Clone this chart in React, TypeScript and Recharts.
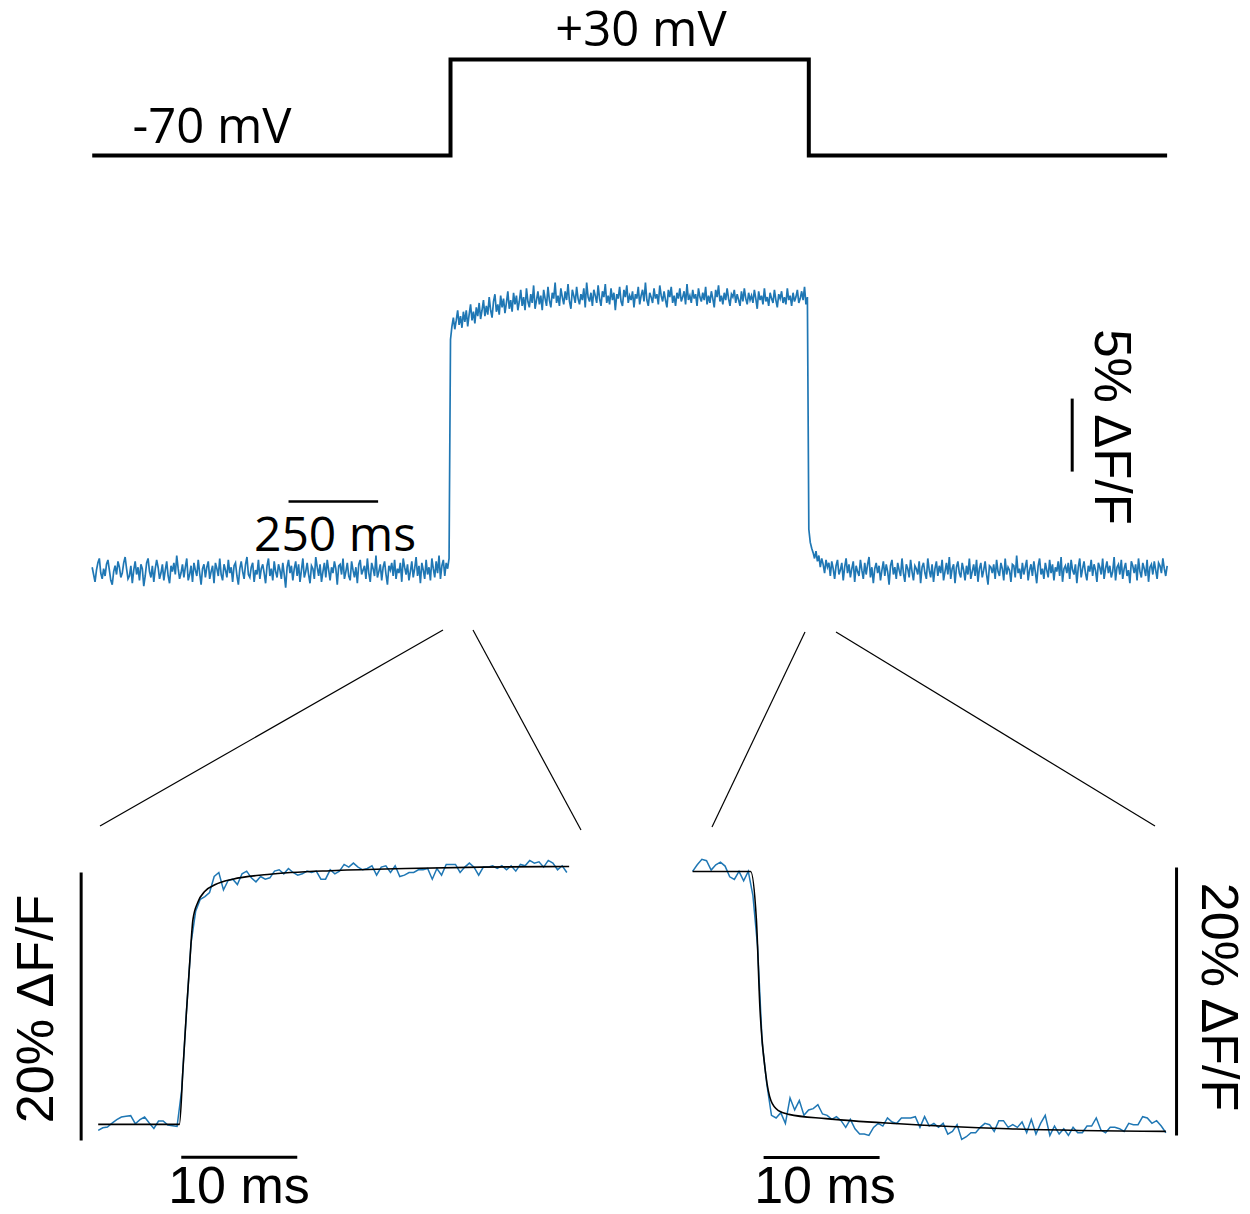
import React from "react";
import { LineChart, Line, XAxis, YAxis, ReferenceLine } from "recharts";

// ---------- DATA ----------
// Voltage command (ms, mV)
const stepTimes = [0, 1000, 1000, 2000, 2000, 3000];
const stepVolts = [-70, -70, 30, 30, -70, -70];

// Fluorescence trace (%ΔF/F), sampled every 4 ms
const SAMPLE_MS = 4;
const preStep = [
  0.3, -0.2, -0.7, 0.1, 0.6, 0.9, -0.1, -0.5, 0.2, -0.3,
  0.5, 0.8, 0.1, -0.6, -0.9, 0.0, 0.4, -0.2, 0.7, 0.3,
  -0.4, -0.1, 0.6, 1.0, 0.2, -0.5, -0.3, 0.4, -0.8, 0.1,
  0.7, -0.2, 0.3, -0.6, 0.5, 0.2, -1.0, -0.3, 0.6, 0.9,
  0.0, -0.4, 0.4, -0.7, 0.2, 0.8, 0.3, -0.5, -0.1, 0.5,
  -0.6, 0.1, 0.7, -0.3, -0.8, 0.4, 0.0, 0.6, -0.2, 1.1,
  0.2, -0.5, -0.1, 0.5, -0.4, 0.3, 0.9, -0.6, -0.2, 0.4,
  -0.7, 0.6, 0.1, -0.3, 0.8, -0.1, -0.9, 0.2, 0.5, -0.4,
  0.3, 0.7, -0.5, 0.0, 0.4, -0.8, 0.6, 0.2, -0.3, 0.9,
  -0.2, -0.6, 0.5, 0.1, -0.4, 0.8, -0.1, 0.3, -0.7, 0.4,
  0.6, -0.3, -0.9, 0.2, 0.7, 0.0, -0.5, 0.5, 1.0, -0.2,
  -0.4, 0.3, 0.6, -0.7, 0.1, -0.2, 0.8, -0.5, 0.2, 0.5,
  -0.1, -0.8, 0.4, 0.9, -0.3, 0.2, -0.6, 0.7, 0.0, -0.4,
  0.5, 0.1, -0.5, 0.6, -0.2, -1.1, 0.3, 0.8, -0.1, 0.4,
  -0.6, 0.2, 0.7, -0.3, 0.5, -0.7, 0.1, 0.9, -0.4, 0.0,
  0.6, -0.2, -0.8, 0.4, 0.2, -0.5, 1.0, 0.3, -0.3, 0.5,
  -0.7, 0.0, 0.6, -0.4, 0.8, 0.1, -0.6, 0.3, -0.1, 0.7,
  0.2, -0.9, 0.4, 0.5, -0.2, 0.9, -0.5, 0.0, 0.6, -0.3,
  -0.6, 0.7, 0.1, -0.4, 0.3, -0.8, 0.5, 0.8, -0.2, 0.1,
  0.4, -0.5, 0.9, -0.1, -0.7, 0.6, 0.2, -0.3, 1.1, -0.4,
  0.0, 0.5, -0.6, 0.3, 0.7, -0.2, -0.9, 0.4, 0.1, 0.6,
  -0.3, 0.8, -0.5, 0.2, -0.1, 0.6, -0.7, 0.9, 0.3, -0.2,
  0.5, -0.6, 0.0, 0.7, -0.4, 0.2, 1.0, -0.3, 0.4, -0.8,
  0.6, 0.1, -0.5, 0.8, -0.2, 0.3, -0.6, 0.9, 0.2, -0.4,
  0.7, -0.1, 1.1, -0.5, 0.4, 0.8, -0.3, 0.6, 0.2, 0.9,
];
const duringStep = [
  15.9, 16.8, 17.4, 16.6, 17.2, 17.9, 16.9, 17.5, 16.7, 17.8,
  17.1, 17.9, 16.8, 17.6, 18.3, 17.2, 17.8, 17.0, 18.1, 17.5,
  18.4, 17.3, 17.9, 18.6, 17.5, 18.2, 17.6, 18.8, 17.9, 17.4,
  18.5, 19.0, 17.8, 18.3, 17.6, 18.9, 18.1, 18.7, 17.7, 18.4,
  19.2, 18.0, 18.6, 17.8, 19.1, 18.3, 18.9, 17.9, 18.5, 19.3,
  18.2, 18.8, 17.9, 19.4, 18.5, 18.1, 19.0, 18.4, 19.6, 18.0,
  18.6, 19.2, 18.3, 18.9, 17.9, 19.3, 18.7, 18.2, 19.5, 18.6,
  18.1, 19.1, 18.7, 19.8, 18.4, 18.9, 18.2, 19.4, 18.8, 18.3,
  19.2, 18.6, 19.7, 18.5, 18.0, 19.3, 18.9, 18.4, 19.5, 18.7,
  18.3, 19.0, 18.6, 19.4, 18.1, 19.8, 18.8, 18.5, 19.1, 18.2,
  19.3, 18.9, 18.4, 19.6, 18.7, 18.2, 19.2, 18.8, 19.7, 18.4,
  18.9, 18.3, 19.4, 18.6, 19.1, 17.9, 19.0, 18.7, 19.5, 18.5,
  18.2, 19.3, 18.8, 19.6, 18.4, 18.9, 18.6, 19.2, 18.1, 19.0,
  18.7, 19.5, 18.3, 18.9, 19.3, 18.5, 19.8, 18.6, 18.2, 19.1,
  18.8, 18.4, 19.4, 18.7, 19.0, 18.3, 19.6, 18.9, 18.5, 19.2,
  18.6, 18.1, 19.3, 18.8, 19.5, 18.4, 18.9, 18.2, 19.1, 18.7,
  19.4, 18.5, 18.8, 19.2, 18.3, 19.7, 18.6, 18.9, 18.4, 19.3,
  18.7, 19.0, 18.2, 19.4, 18.8, 18.5, 19.1, 18.6, 19.5, 18.3,
  18.9, 18.4, 19.2, 18.7, 18.1, 19.3, 18.8, 19.6, 18.5, 18.9,
  18.3, 19.1, 18.6, 19.4, 18.7, 18.2, 19.0, 18.8, 19.3, 18.4,
  19.0, 18.6, 18.2, 19.2, 18.5, 19.4, 18.7, 18.3, 19.1, 18.6,
  18.9, 18.4, 19.3, 18.7, 18.0, 19.2, 18.6, 18.9, 18.3, 19.4,
  18.5, 18.8, 18.2, 19.1, 18.7, 18.4, 19.3, 18.6, 18.1, 19.0,
  18.7, 19.2, 18.4, 18.8, 18.3, 19.4, 18.6, 18.9, 18.2, 19.1,
  18.5, 18.8, 19.3, 18.4, 18.7, 19.2, 18.6, 19.5, 18.3, 18.8,
];
const postStep = [
  2.9, 2.0, 1.6, 1.3, 0.9, 1.4, 0.7, 1.1, 0.3, 0.9,
  0.5, -0.1, 0.8, 0.3, 0.6, -0.3, 0.7, 0.2, -0.5, 0.4,
  0.8, -0.2, 0.1, 0.6, -0.6, 0.3, 0.9, -0.1, 0.5, -0.4,
  0.2, 0.7, -0.7, 0.4, 0.0, -0.3, 0.8, 0.1, -0.5, 0.6,
  -0.2, 0.5, 1.0, -0.4, 0.3, -0.8, 0.2, 0.6, -0.1, 0.4,
  -0.6, 0.1, 0.7, -0.3, 0.5, 0.0, -0.9, 0.4, 0.8, -0.2,
  0.3, -0.5, 0.6, 0.1, -0.3, 0.9, -0.1, -0.7, 0.5, 0.2,
  -0.4, 0.8, 0.0, -0.6, 0.4, 0.2, -0.2, 0.7, -0.8, 0.3,
  0.6, -0.1, -0.5, 0.9, 0.1, -0.4, 0.5, -0.7, 0.2, 0.7,
  -0.3, 0.4, -0.1, 0.8, -0.6, 0.0, 0.6, -0.2, 1.0, -0.5,
  0.2, 0.5, -0.8, 0.3, 0.7, -0.1, -0.4, 0.6, 0.1, -0.6,
  0.4, -0.2, 0.9, -0.5, 0.0, 0.5, -0.3, 0.8, -0.7, 0.2,
  0.6, -0.4, 0.1, 0.7, -0.2, -0.9, 0.4, 0.3, -0.1, 0.5,
  -0.5, 0.8, 0.0, -0.3, 0.6, 0.2, -0.6, 0.9, -0.2, 0.3,
  0.1, -0.7, 0.5, 0.4, -0.4, 1.1, -0.1, 0.2, -0.5, 0.6,
  -0.2, 0.3, 0.8, -0.6, 0.1, 0.5, -0.3, 0.7, 0.0, -0.8,
  0.4, 0.9, -0.2, 0.2, -0.5, 0.6, 0.1, -0.4, 0.8, -0.1,
  0.5, -0.6, 0.3, 0.0, 0.7, -0.3, 1.0, -0.7, 0.2, 0.4,
  -0.1, 0.6, -0.5, 0.8, 0.1, -0.2, 0.5, -0.8, 0.3, 0.9,
  -0.4, 0.2, 0.7, -0.1, -0.6, 0.4, 0.0, 0.8, -0.3, 0.5,
  0.1, -0.7, 0.6, 0.3, -0.2, 0.9, -0.5, 0.2, 0.7, -0.1,
  0.4, -0.4, 0.0, 1.0, -0.6, 0.3, 0.5, -0.2, 0.8, -0.5,
  0.2, 0.6, -0.3, 0.1, -0.8, 0.7, 0.4, -0.1, 0.5, -0.6,
  0.9, 0.0, -0.4, 0.6, 0.2, -0.3, 0.8, -0.7, 0.3, 0.5,
  -0.2, 0.7, 0.1, -0.5, 0.6, 0.4, -0.1, 0.9, 0.2, -0.3,
  0.4,
];

// Zoomed onset (ms, %ΔF/F), sampled every 0.4 ms
const ZOOM_SAMPLE_MS = 0.4;
const onsetTrace = [
  -0.45, -0.25, -0.2, 0.1, 0.35, 0.55, 0.6, 0.65, 0.05, 0.35,
  0.55, 0.1, -0.3, 0.25, 0.25, -0.05, -0.1, -0.15, 2.6, 8.3,
  13.5, 15.9, 16.8, 17.0, 17.3, 18.5, 18.8, 17.5, 18.2, 18.3,
  17.9, 18.7, 18.9, 18.4, 18.1, 18.5, 18.3, 18.4, 18.9, 19.0,
  18.7, 19.1, 18.8, 18.6, 18.7, 18.9, 18.8, 18.9, 18.3, 18.3,
  19.0, 18.7, 18.9, 19.4, 19.2, 19.5, 19.2, 19.0, 19.1, 19.3,
  18.6, 19.2, 19.3, 18.8, 19.3, 18.5, 18.6, 18.8, 18.8, 19.0,
  19.0, 19.1, 18.3, 19.1, 18.6, 19.4, 19.4, 19.4, 18.8, 19.2,
  19.5, 19.2, 18.6, 19.2, 19.2, 19.3, 19.1, 19.3, 19.0, 19.3,
  18.9, 19.4, 19.3, 19.7, 19.5, 19.6, 19.2, 19.7, 19.5, 19.0,
  19.3, 18.8,
];
const onsetFitTimes = [0, 7.0, 7.3, 7.6, 7.9, 8.17, 8.6, 9.2, 10.1, 11.6, 14.6, 20.5, 26.5, 33, 40.6];
const onsetFitValues = [0, 0, 4, 8.3, 12.2, 15.3, 16.6, 17.4, 17.9, 18.3, 18.65, 18.95, 19.1, 19.2, 19.25];

// Zoomed offset (ms, %ΔF/F), sampled every 0.4 ms
const offsetTrace = [
  19.4, 19.9, 20.3, 20.2, 19.5, 19.9, 20.1, 19.8, 19.0, 18.8,
  19.4, 18.7, 19.4, 17.6, 13.8, 6.6, 3.5, 1.2, 1.0, 1.4,
  0.6, 2.5, 1.6, 2.3, 1.2, 1.6, 1.7, 2.0, 1.3, 1.2,
  0.9, 1.1, 0.8, 0.3, 0.9, 0.2, -0.2, -0.2, -0.3, 0.3,
  0.6, 0.4, 1.0, 0.7, 0.6, 1.0, 1.0, 1.0, 1.1, 0.3,
  1.1, 0.4, 0.6, 0.3, 0.6, -0.2, 0.0, 0.5, -0.6, -0.4,
  -0.1, -0.1, 0.3, 0.6, 0.5, 0.0, 0.8, 0.8, 0.3, 0.5,
  0.3, 0.7, -0.1, 0.9, -0.2, 0.6, 1.2, -0.3, 0.4, -0.2,
  0.2, -0.3, 0.3, -0.1, -0.1, 0.4, 0.4, 1.0, 0.1, -0.1,
  0.3, 0.3, 0.2, 0.0, 0.6, 0.5, 0.5, 1.1, 1.0, 0.6,
  0.8, 0.4, -0.1,
];
const offsetFitTimes = [0, 5.0, 5.5, 5.8, 6.3, 6.75, 7.4, 8.3, 11.5, 17.8, 27.2, 40.8];
const offsetFitValues = [19.4, 19.4, 15.8, 9.3, 4.3, 2.3, 1.55, 1.27, 0.95, 0.57, 0.2, 0];

// Scale bar labels
const labelHold = "-70 mV";
const labelStep = "+30 mV";
const labelTimeLong = "250 ms";
const labelAmpLong = "5% ΔF/F";
const labelTimeShort = "10 ms";
const labelAmpShort = "20% ΔF/F";

// ---------- BUILD SERIES ----------
const stepData = stepTimes.map((t, i) => ({ t, v: stepVolts[i] }));
const traceData = [
  ...preStep.map((f, i) => ({ t: i * SAMPLE_MS, f })),
  ...duringStep.map((f, i) => ({ t: 1000 + i * SAMPLE_MS, f })),
  ...postStep.map((f, i) => ({ t: 2000 + i * SAMPLE_MS, f })),
];
const onsetData = onsetTrace.map((f, i) => ({ t: i * ZOOM_SAMPLE_MS, f }));
const onsetFit = onsetFitTimes.map((t, i) => ({ t, f: onsetFitValues[i] }));
const offsetData = offsetTrace.map((f, i) => ({ t: i * ZOOM_SAMPLE_MS, f }));
const offsetFit = offsetFitTimes.map((t, i) => ({ t, f: offsetFitValues[i] }));

// ---------- LAYOUT ----------
const BLUE = "#1f77b4";
const SANS = "'Liberation Sans', Arial, sans-serif";
const MYRIAD = "'Open Sans', sans-serif";

type PanelProps = {
  x0: number; kx: number; y0: number; ky: number;
  xDom: [number, number]; yDom: [number, number];
  children: React.ReactNode;
};

function Panel({ x0, kx, y0, ky, xDom, yDom, children }: PanelProps) {
  const pad = 4;
  const left = x0 + xDom[0] * kx;
  const width = (xDom[1] - xDom[0]) * kx;
  const top = y0 - yDom[1] * ky;
  const height = (yDom[1] - yDom[0]) * ky;
  return (
    <div style={{ position: "absolute", left: left - pad, top: top - pad }}>
      <LineChart
        width={width + 2 * pad}
        height={height + 2 * pad}
        margin={{ top: pad, right: pad, bottom: pad, left: pad }}
      >
        <XAxis type="number" dataKey="t" domain={xDom} hide allowDataOverflow />
        <YAxis type="number" domain={yDom} hide allowDataOverflow width={0} />
        {children}
      </LineChart>
    </div>
  );
}

const connectors = [
  [443, 630, 100, 826],
  [473, 630, 581, 830],
  [805, 632, 712, 827],
  [836, 632, 1155, 826],
];

export default function App() {
  return (
    <div style={{ position: "absolute", left: 0, top: 0, width: 1250, height: 1214, background: "#fff", overflow: "hidden" }}>
      {/* Voltage command */}
      <Panel x0={92} kx={1075 / 3000} y0={88.8} ky={0.96} xDom={[-20, 3020]} yDom={[-80, 40]}>
        <Line data={stepData} dataKey="v" type="linear" stroke="#000" strokeWidth={4} dot={false} isAnimationActive={false} strokeLinejoin="miter" strokeLinecap="butt" />
      </Panel>

      {/* Full fluorescence trace */}
      <Panel x0={92} kx={1075 / 3000} y0={572} ky={14.6} xDom={[-20, 3020]} yDom={[-2, 21]}>
        <Line data={traceData} dataKey="f" type="linear" stroke={BLUE} strokeWidth={1.7} dot={false} isAnimationActive={false} />
        <ReferenceLine segment={[{ x: 548, y: 4.8 }, { x: 798, y: 4.8 }]} stroke="#000" strokeWidth={2.5} ifOverflow="visible" />
        <ReferenceLine segment={[{ x: 2735, y: 6.85 }, { x: 2735, y: 11.85 }]} stroke="#000" strokeWidth={3} ifOverflow="visible" />
      </Panel>

      {/* Onset zoom */}
      <Panel x0={98} kx={11.6} y0={1124} ky={13.4} xDom={[-2, 41]} yDom={[-3, 21]}>
        <Line data={onsetData} dataKey="f" type="linear" stroke={BLUE} strokeWidth={1.5} dot={false} isAnimationActive={false} />
        <Line data={onsetFit} dataKey="f" type="monotone" stroke="#000" strokeWidth={1.6} dot={false} isAnimationActive={false} />
        <ReferenceLine segment={[{ x: 7.16, y: -2.46 }, { x: 17.16, y: -2.46 }]} stroke="#000" strokeWidth={3} ifOverflow="visible" />
        <ReferenceLine segment={[{ x: -1.47, y: -1.2 }, { x: -1.47, y: 18.8 }]} stroke="#000" strokeWidth={3} ifOverflow="visible" />
      </Panel>

      {/* Offset zoom */}
      <Panel x0={693} kx={11.6} y0={1131} ky={13.4} xDom={[-1, 42.5]} yDom={[-3, 21]}>
        <Line data={offsetData} dataKey="f" type="linear" stroke={BLUE} strokeWidth={1.5} dot={false} isAnimationActive={false} />
        <Line data={offsetFit} dataKey="f" type="monotone" stroke="#000" strokeWidth={1.6} dot={false} isAnimationActive={false} />
        <ReferenceLine segment={[{ x: 6.12, y: -1.94 }, { x: 16.12, y: -1.94 }]} stroke="#000" strokeWidth={3} ifOverflow="visible" />
        <ReferenceLine segment={[{ x: 41.72, y: -0.3 }, { x: 41.72, y: 19.7 }]} stroke="#000" strokeWidth={3} ifOverflow="visible" />
      </Panel>

      {/* Annotations */}
      <svg width={1250} height={1214} style={{ position: "absolute", left: 0, top: 0, pointerEvents: "none" }}>
        {connectors.map(([x1, y1, x2, y2], i) => (
          <line key={i} x1={x1} y1={y1} x2={x2} y2={y2} stroke="#000" strokeWidth={1.2} />
        ))}
        <text x={212} y={143} textAnchor="middle" fontFamily={MYRIAD} fontSize={49} fill="#000">{labelHold}</text>
        <text x={335} y={551} textAnchor="middle" fontFamily={MYRIAD} fontSize={48} fill="#000">{labelTimeLong}</text>
        <text x={0} y={0} transform="translate(1112,427) rotate(90)" textAnchor="middle" dominantBaseline="central" fontFamily={SANS} fontSize={51} fill="#000">{labelAmpLong}</text>
        <text x={239} y={1203} textAnchor="middle" fontFamily={SANS} fontSize={52} fill="#000">{labelTimeShort}</text>
        <text x={825} y={1203} textAnchor="middle" fontFamily={SANS} fontSize={52} fill="#000">{labelTimeShort}</text>
        <text x={0} y={0} transform="translate(35,1009) rotate(-90)" textAnchor="middle" dominantBaseline="central" fontFamily={SANS} fontSize={52} fill="#000">{labelAmpShort}</text>
        <text x={0} y={0} transform="translate(1220,997) rotate(90)" textAnchor="middle" dominantBaseline="central" fontFamily={SANS} fontSize={52} fill="#000">{labelAmpShort}</text>
      </svg>
      <div style={{ position: "absolute", left: 541, top: 2.5, width: 200, textAlign: "center", fontFamily: MYRIAD, fontSize: 49, lineHeight: "49px", color: "#000", whiteSpace: "nowrap" }}>
        {labelStep}
      </div>
    </div>
  );
}
